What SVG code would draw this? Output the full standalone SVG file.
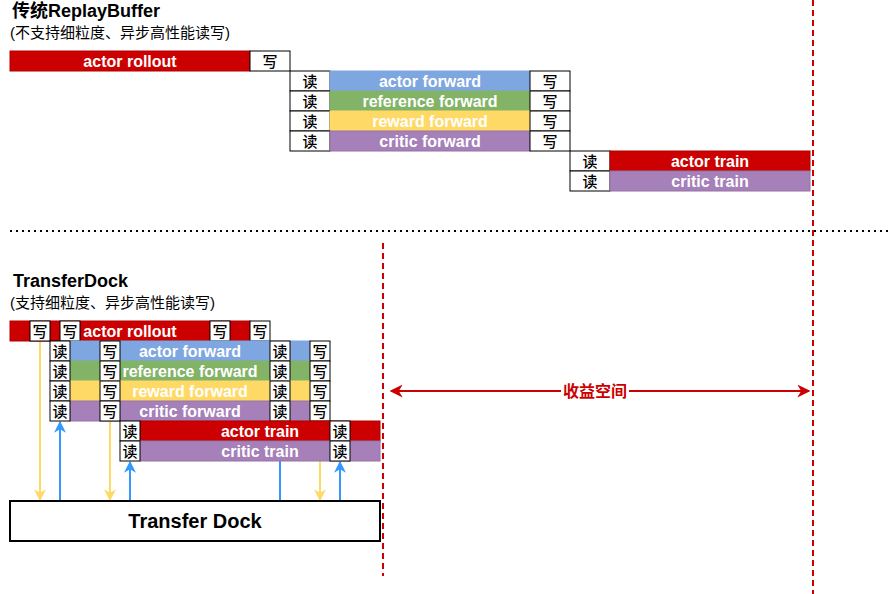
<svg xmlns="http://www.w3.org/2000/svg" width="892" height="594" viewBox="0 0 892 594">
<style>
  text { font-family: "Liberation Sans", "Noto Sans CJK SC", sans-serif; }
  .title { font-size: 18px; font-weight: bold; fill: #000; }
  .sub { font-size: 15px; fill: #000; }
  .lbl { font-size: 16px; font-weight: bold; fill: #fff; text-anchor: middle; dominant-baseline: central; }
  .rw { font-size: 15px; font-weight: 500; fill: #000; text-anchor: middle; dominant-baseline: central; }
  .box { fill: #fff; stroke: #000; stroke-width: 1; }
  .red { fill: #CC0000; stroke: #B20000; stroke-width: 1; }
  .blue { fill: #7EA6E0; stroke: #7EA6E0; stroke-width: 1; }
  .green { fill: #82B366; stroke: #82B366; stroke-width: 1; }
  .yellow { fill: #FFD966; stroke: #FFD966; stroke-width: 1; }
  .purple { fill: #A680B8; stroke: #9673A6; stroke-width: 1; }
  .ya { stroke: #FFD966; stroke-width: 2; fill: none; marker-end: url(#my); }
  .ba { stroke: #3399FF; stroke-width: 2; fill: none; marker-end: url(#mb); }
  .rdash { stroke: #CC0000; stroke-width: 2; stroke-dasharray: 6 4; fill: none; }
</style>
<defs>
  <marker id="my" viewBox="0 0 10 10" refX="9" refY="5" markerWidth="12" markerHeight="12" orient="auto" markerUnits="userSpaceOnUse"><path d="M0,0 L10,5 L0,10 L3,5 z" fill="#FFD966"/></marker>
  <marker id="mb" viewBox="0 0 10 10" refX="9" refY="5" markerWidth="12" markerHeight="12" orient="auto" markerUnits="userSpaceOnUse"><path d="M0,0 L10,5 L0,10 L3,5 z" fill="#3399FF"/></marker>
  <marker id="mr" viewBox="0 0 10 10" refX="9" refY="5" markerWidth="13" markerHeight="13" orient="auto-start-reverse" markerUnits="userSpaceOnUse"><path d="M0,0 L10,5 L0,10 L3,5 z" fill="#CC0000"/></marker>
</defs>
<rect x="0" y="0" width="892" height="594" fill="#fff"/>

<!-- titles -->
<g id="title-top">
  <text class="title" x="12" y="17">传统ReplayBuffer</text>
  <text class="sub" x="10" y="38">(不支持细粒度、异步高性能读写)</text>
</g>
<g id="title-bottom">
  <text class="title" x="13" y="287">TransferDock</text>
  <text class="sub" x="10" y="308">(支持细粒度、异步高性能读写)</text>
</g>

<!-- separators -->
<g id="separators">
  <line x1="10" y1="231" x2="890" y2="231" stroke="#000" stroke-width="2" stroke-dasharray="2 4"/>
  <line class="rdash" x1="813" y1="0" x2="813" y2="594"/>
  <line class="rdash" x1="383" y1="243" x2="383" y2="576"/>
</g>

<!-- connectors -->
<g id="connectors">
  <line class="ya" x1="40" y1="341" x2="40" y2="500"/>
  <line class="ba" x1="60" y1="501" x2="60" y2="422"/>
  <line class="ya" x1="110" y1="421" x2="110" y2="500"/>
  <line class="ba" x1="130" y1="501" x2="130" y2="462"/>
  <line class="ba" x1="280" y1="501" x2="280" y2="422"/>
  <line class="ya" x1="320" y1="421" x2="320" y2="500"/>
  <line class="ba" x1="340" y1="501" x2="340" y2="462"/>
  <line x1="391" y1="391" x2="809" y2="391" stroke="#CC0000" stroke-width="2" marker-start="url(#mr)" marker-end="url(#mr)"/>
</g>
<g id="gain-label">
  <rect x="561" y="381" width="68" height="20" fill="#fff"/>
  <text x="595" y="391" font-size="16" font-weight="bold" fill="#CC0000" text-anchor="middle" dominant-baseline="central">收益空间</text>
</g>

<!-- top section -->
<g id="rb-actor-rollout">
  <rect class="red" x="10" y="51" width="240" height="20"/>
  <text class="lbl" x="130" y="61">actor rollout</text>
  <rect class="box" x="250" y="51" width="40" height="20"/>
  <text class="rw" x="270" y="61">写</text>
</g>
<g id="rb-actor-forward">
  <rect class="box" x="290" y="71" width="40" height="20"/>
  <text class="rw" x="310" y="81">读</text>
  <rect class="blue" x="330" y="71" width="200" height="20"/>
  <text class="lbl" x="430" y="81">actor forward</text>
  <rect class="box" x="530" y="71" width="40" height="20"/>
  <text class="rw" x="550" y="81">写</text>
</g>
<g id="rb-reference-forward">
  <rect class="box" x="290" y="91" width="40" height="20"/>
  <text class="rw" x="310" y="101">读</text>
  <rect class="green" x="330" y="91" width="200" height="20"/>
  <text class="lbl" x="430" y="101">reference forward</text>
  <rect class="box" x="530" y="91" width="40" height="20"/>
  <text class="rw" x="550" y="101">写</text>
</g>
<g id="rb-reward-forward">
  <rect class="box" x="290" y="111" width="40" height="20"/>
  <text class="rw" x="310" y="121">读</text>
  <rect class="yellow" x="330" y="111" width="200" height="20"/>
  <text class="lbl" x="430" y="121">reward forward</text>
  <rect class="box" x="530" y="111" width="40" height="20"/>
  <text class="rw" x="550" y="121">写</text>
</g>
<g id="rb-critic-forward">
  <rect class="box" x="290" y="131" width="40" height="20"/>
  <text class="rw" x="310" y="141">读</text>
  <rect class="purple" x="330" y="131" width="200" height="20"/>
  <text class="lbl" x="430" y="141">critic forward</text>
  <rect class="box" x="530" y="131" width="40" height="20"/>
  <text class="rw" x="550" y="141">写</text>
</g>
<g id="rb-actor-train">
  <rect class="box" x="570" y="151" width="40" height="20"/>
  <text class="rw" x="590" y="161">读</text>
  <rect class="red" x="610" y="151" width="200" height="20"/>
  <text class="lbl" x="710" y="161">actor train</text>
</g>
<g id="rb-critic-train">
  <rect class="box" x="570" y="171" width="40" height="20"/>
  <text class="rw" x="590" y="181">读</text>
  <rect class="purple" x="610" y="171" width="200" height="20"/>
  <text class="lbl" x="710" y="181">critic train</text>
</g>

<!-- bottom section -->
<g id="td-actor-rollout">
  <rect class="red" x="10" y="321" width="240" height="20"/>
  <text class="lbl" x="130" y="331">actor rollout</text>
  <rect class="box" x="30" y="321" width="20" height="20"/><text class="rw" x="40" y="331">写</text>
  <rect class="box" x="60" y="321" width="20" height="20"/><text class="rw" x="70" y="331">写</text>
  <rect class="box" x="210" y="321" width="20" height="20"/><text class="rw" x="220" y="331">写</text>
  <rect class="box" x="250" y="321" width="20" height="20"/><text class="rw" x="260" y="331">写</text>
</g>
<g id="td-actor-forward">
  <rect class="blue" x="70" y="341" width="240" height="20"/>
  <text class="lbl" x="190" y="351">actor forward</text>
  <rect class="box" x="50" y="341" width="20" height="20"/><text class="rw" x="60" y="351">读</text>
  <rect class="box" x="100" y="341" width="20" height="20"/><text class="rw" x="110" y="351">写</text>
  <rect class="box" x="270" y="341" width="20" height="20"/><text class="rw" x="280" y="351">读</text>
  <rect class="box" x="310" y="341" width="20" height="20"/><text class="rw" x="320" y="351">写</text>
</g>
<g id="td-reference-forward">
  <rect class="green" x="70" y="361" width="240" height="20"/>
  <text class="lbl" x="190" y="371">reference forward</text>
  <rect class="box" x="50" y="361" width="20" height="20"/><text class="rw" x="60" y="371">读</text>
  <rect class="box" x="100" y="361" width="20" height="20"/><text class="rw" x="110" y="371">写</text>
  <rect class="box" x="270" y="361" width="20" height="20"/><text class="rw" x="280" y="371">读</text>
  <rect class="box" x="310" y="361" width="20" height="20"/><text class="rw" x="320" y="371">写</text>
</g>
<g id="td-reward-forward">
  <rect class="yellow" x="70" y="381" width="240" height="20"/>
  <text class="lbl" x="190" y="391">reward forward</text>
  <rect class="box" x="50" y="381" width="20" height="20"/><text class="rw" x="60" y="391">读</text>
  <rect class="box" x="100" y="381" width="20" height="20"/><text class="rw" x="110" y="391">写</text>
  <rect class="box" x="270" y="381" width="20" height="20"/><text class="rw" x="280" y="391">读</text>
  <rect class="box" x="310" y="381" width="20" height="20"/><text class="rw" x="320" y="391">写</text>
</g>
<g id="td-critic-forward">
  <rect class="purple" x="70" y="401" width="240" height="20"/>
  <text class="lbl" x="190" y="411">critic forward</text>
  <rect class="box" x="50" y="401" width="20" height="20"/><text class="rw" x="60" y="411">读</text>
  <rect class="box" x="100" y="401" width="20" height="20"/><text class="rw" x="110" y="411">写</text>
  <rect class="box" x="270" y="401" width="20" height="20"/><text class="rw" x="280" y="411">读</text>
  <rect class="box" x="310" y="401" width="20" height="20"/><text class="rw" x="320" y="411">写</text>
</g>
<g id="td-actor-train">
  <rect class="red" x="140" y="421" width="240" height="20"/>
  <text class="lbl" x="260" y="431">actor train</text>
  <rect class="box" x="120" y="421" width="20" height="20"/><text class="rw" x="130" y="431">读</text>
  <rect class="box" x="330" y="421" width="20" height="20"/><text class="rw" x="340" y="431">读</text>
</g>
<g id="td-critic-train">
  <rect class="purple" x="140" y="441" width="240" height="20"/>
  <text class="lbl" x="260" y="451">critic train</text>
  <rect class="box" x="120" y="441" width="20" height="20"/><text class="rw" x="130" y="451">读</text>
  <rect class="box" x="330" y="441" width="20" height="20"/><text class="rw" x="340" y="451">读</text>
</g>
<g id="transfer-dock">
  <rect x="10" y="501" width="370" height="40" fill="#fff" stroke="#000" stroke-width="2"/>
  <text x="195" y="521" font-size="20" font-weight="bold" fill="#000" text-anchor="middle" dominant-baseline="central">Transfer Dock</text>
</g>
</svg>
